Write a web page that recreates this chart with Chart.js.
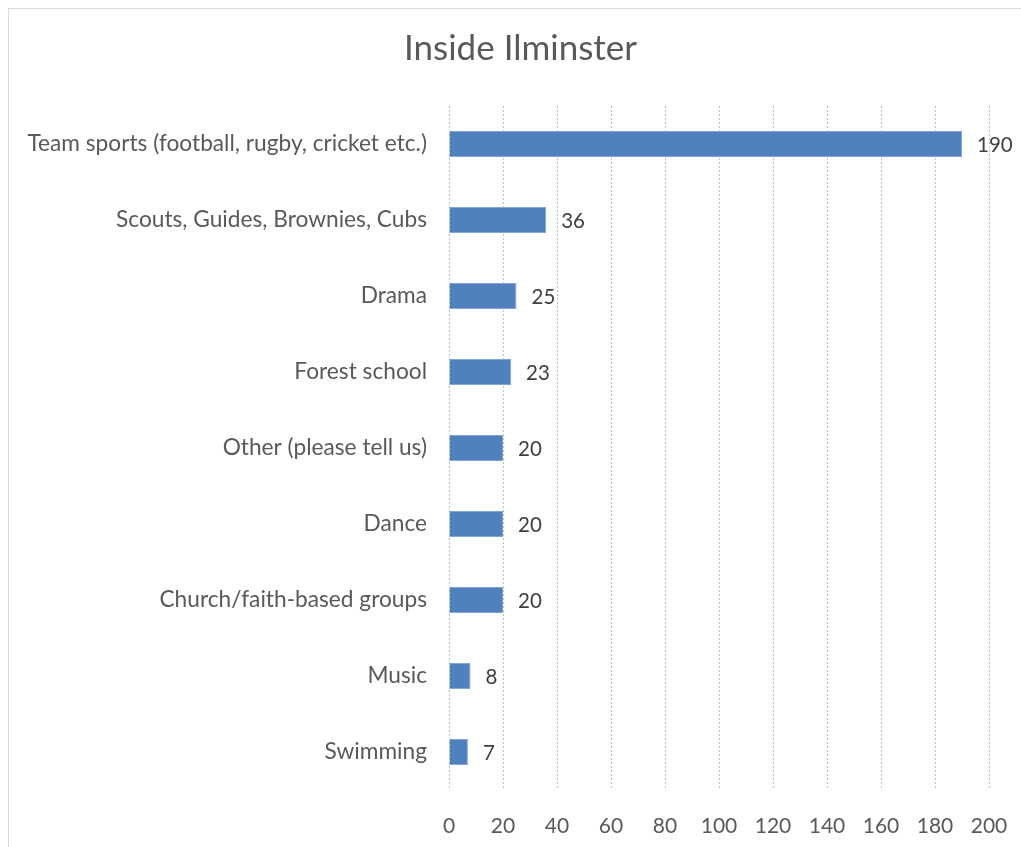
<!DOCTYPE html>
<html>
<head>
<meta charset="utf-8">
<script src="https://cdn.jsdelivr.net/npm/chart.js@4"></script>
<style>
  html,body{margin:0;padding:0;background:#fff;overflow:hidden;}
  .frame{position:absolute;left:8px;top:8px;width:1100px;height:900px;border:1px solid #d9d9d9;}
  .wrap{position:absolute;left:0;top:0;width:1021px;height:847px;}
</style>
</head>
<body>
<div class="frame"></div>
<div class="wrap"><canvas id="chart" width="1021" height="847"></canvas></div>
<script>
const categories = [
  "Team sports (football, rugby, cricket etc.)",
  "Scouts, Guides, Brownies, Cubs",
  "Drama",
  "Forest school",
  "Other (please tell us)",
  "Dance",
  "Church/faith-based groups",
  "Music",
  "Swimming"
];
const counts = [190, 36, 25, 23, 20, 20, 20, 8, 7];
const xTicks = [0, 20, 40, 60, 80, 100, 120, 140, 160, 180, 200];

const FONT = "Lato";

// value labels to the right of each bar
const barLabels = {
  id: "barLabels",
  afterLayout(chart){
    // nudge the title box so it centres like the original
    if(chart.titleBlock) chart.titleBlock.left = 52;
  },
  afterDatasetsDraw(chart){
    const ctx = chart.ctx;
    const meta = chart.getDatasetMeta(0);
    ctx.save();
    ctx.font = "20.5px " + FONT;
    ctx.fillStyle = "#404040";
    ctx.textAlign = "left";
    ctx.textBaseline = "middle";
    meta.data.forEach((bar, i) => {
      ctx.fillText(String(counts[i]), bar.x + 15, bar.y + 1);
    });
    ctx.restore();
  }
};

new Chart(document.getElementById("chart"), {
  type: "bar",
  data: {
    labels: categories,
    datasets: [{
      data: counts,
      backgroundColor: "#4f81bd",
      borderColor: "#7fa6d6",
      borderWidth: 1,
      barPercentage: 0.34,
      categoryPercentage: 1
    }]
  },
  options: {
    indexAxis: "y",
    responsive: false,
    animation: false,
    layout: { padding: { left: 0, right: 32, top: 0, bottom: 0 } },
    plugins: {
      legend: { display: false },
      tooltip: { enabled: false },
      title: {
        display: true,
        text: "Inside Ilminster",
        color: "#595959",
        font: { family: FONT, size: 35, weight: "normal" },
        padding: { top: 28, bottom: 36 }
      }
    },
    scales: {
      x: {
        min: 0, max: 200,
        afterBuildTicks(axis){ axis.ticks = xTicks.map(v => ({ value: v })); },
        afterFit(axis){ axis.height = 57; axis.paddingRight = 0; axis.paddingLeft = 0; },
        border: { display: false, dash: [2, 2] },
        grid: { color: "#bdbdbd", lineWidth: 1, drawTicks: false },
        ticks: { color: "#595959", padding: 24, font: { family: FONT, size: 21 } }
      },
      y: {
        afterFit(axis){ axis.width = 449; },
        border: { display: false },
        grid: { display: false, drawTicks: false },
        ticks: { color: "#595959", padding: 22, font: { family: FONT, size: 22.7 } }
      }
    }
  },
  plugins: [barLabels]
});
</script>
</body>
</html>
